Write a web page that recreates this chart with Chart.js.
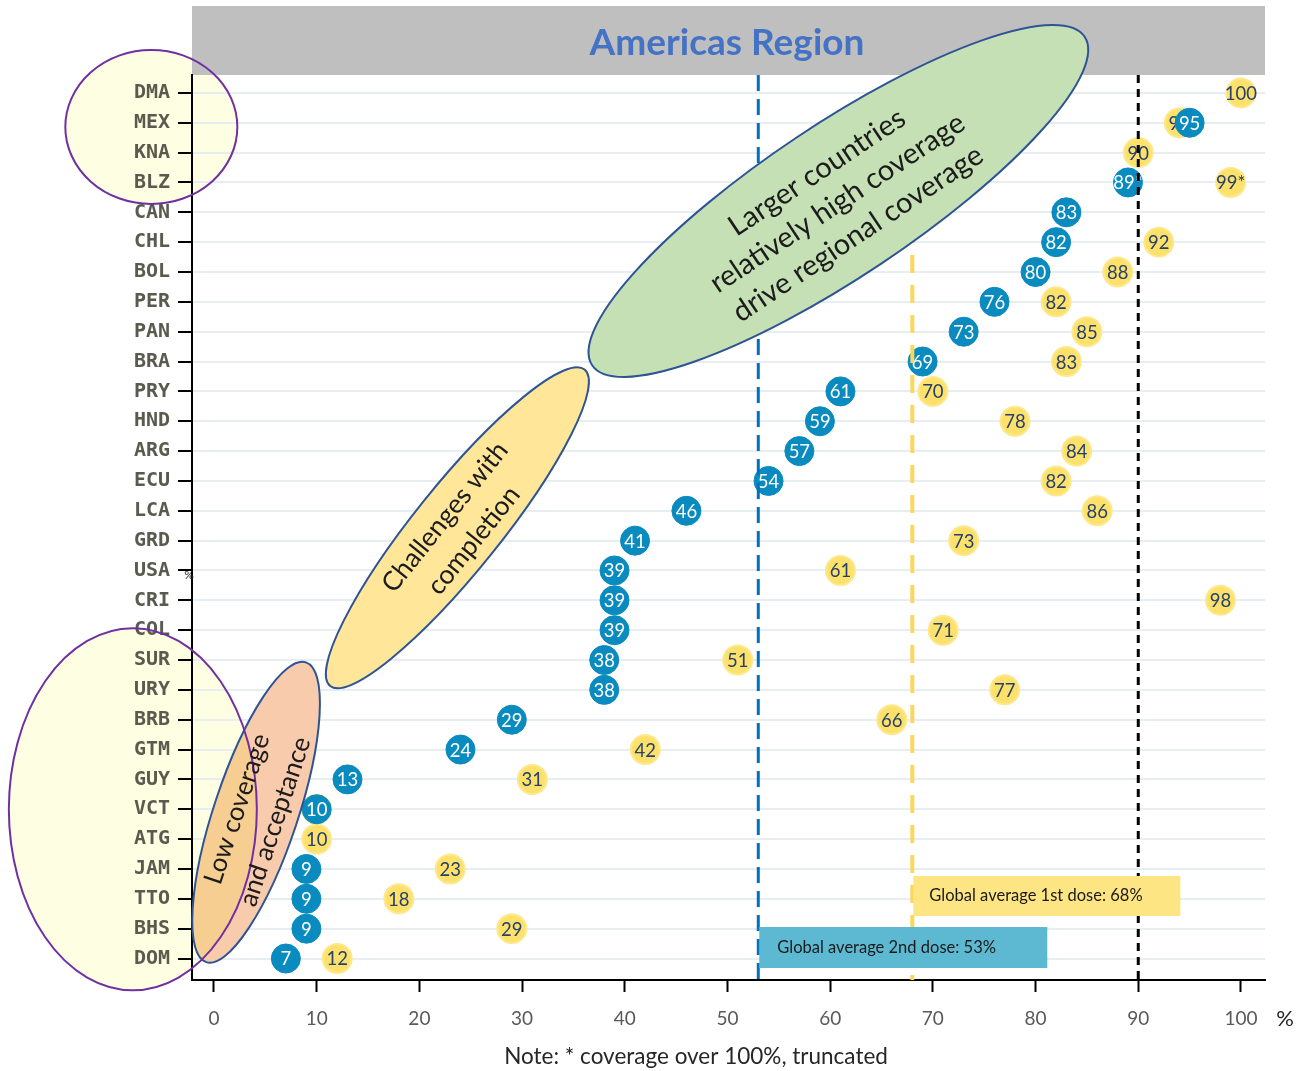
<!DOCTYPE html>
<html>
<head>
<meta charset="utf-8">
<title>Americas Region</title>
<script src="https://cdn.jsdelivr.net/npm/chart.js@4.4.1/dist/chart.umd.min.js"></script>
<style>
  html, body { margin: 0; padding: 0; background: #ffffff; }
  #wrap { width: 1297px; height: 1071px; position: relative; }
</style>
</head>
<body>
<div id="wrap"><canvas id="coverageChart" width="1297" height="1071"></canvas></div>
<script>
// =========================
// data
// =========================
const countries = [
  "DMA", "MEX", "KNA", "BLZ", "CAN", "CHL", "BOL", "PER", "PAN", "BRA",
  "PRY", "HND", "ARG", "ECU", "LCA", "GRD", "USA", "CRI", "COL", "SUR",
  "URY", "BRB", "GTM", "GUY", "VCT", "ATG", "JAM", "TTO", "BHS", "DOM",
];

// completed series (2nd dose), %
const secondDose = [
  null, 95, null, 89, 83, 82, 80, 76, 73, 69,
  61, 59, 57, 54, 46, 41, 39, 39, 39, 38,
  38, 29, 24, 13, 10, null, 9, 9, 9, 7,
];

// at least one dose, %
const firstDose = [
  100, 94, 90, 99, null, 92, 88, 82, 85, 83,
  70, 78, 84, 82, 86, 73, 61, 98, 71, 51,
  77, 66, 42, 31, 10, 10, 23, 18, 29, 12,
];

// coverage over 100% is cut to 99 and flagged
const truncatedCountries = ["BLZ"];

const globalAvgFirst = 68;
const globalAvgSecond = 53;
const targetCoverage = 90;

const xTickStep = 10;

// =========================
// helpers
// =========================
function toPoints(values) {
  return values
    .map((v, i) => (v === null ? null : { x: v, y: i }))
    .filter(Boolean);
}

function toLabels(values) {
  return values
    .map((v, i) =>
      v === null ? null : `${v}${truncatedCountries.includes(countries[i]) ? "*" : ""}`,
    )
    .filter((v) => v !== null);
}

function ellipsePath(ctx, cx, cy, rx, ry, deg) {
  ctx.beginPath();
  ctx.ellipse(cx, cy, rx, ry, (deg * Math.PI) / 180, 0, Math.PI * 2);
}

function rotatedText(ctx, lines, cx, cy, deg, font, gap) {
  ctx.save();
  ctx.translate(cx, cy);
  ctx.rotate((deg * Math.PI) / 180);
  ctx.font = font;
  ctx.fillStyle = "#1c1c1c";
  ctx.textAlign = "center";
  ctx.textBaseline = "middle";
  lines.forEach((line, i) => {
    ctx.fillText(line, 0, (i - (lines.length - 1) / 2) * gap);
  });
  ctx.restore();
}

// callout shapes, centred on value / row position
const callouts = {
  pale: [
    { x: -6.1, row: 1.14, rx: 86, ry: 77 },
    { x: -7.9, row: 24.0, rx: 124, ry: 181 },
  ],
  low: { x: 4.1, row: 24.1, rx: 158, ry: 42, deg: -71.6 },
  challenge: { x: 23.7, row: 14.57, rx: 203, ry: 43, deg: -51.2 },
  larger: { x: 60.8, row: 3.62, rx: 296, ry: 76, deg: -33.7 },
};

// =========================
// plugins
// =========================
const backdropPlugin = {
  id: "backdrop",
  beforeDraw(chart) {
    const { ctx, chartArea, scales } = chart;
    ctx.save();
    ctx.fillStyle = "#ffffff";
    ctx.fillRect(0, 0, chart.width, chart.height);

    // pale circles behind the smallest countries
    ctx.fillStyle = "#fefee2";
    callouts.pale.forEach((c) => {
      ellipsePath(ctx, scales.x.getPixelForValue(c.x), scales.y.getPixelForValue(c.row), c.rx, c.ry, 0);
      ctx.fill();
    });

    // title bar
    ctx.fillStyle = "#bfbfbf";
    ctx.fillRect(chartArea.left, 6, chartArea.right - chartArea.left, chartArea.top - 6);
    ctx.fillStyle = "#4472c4";
    ctx.font = "bold 37px Lato";
    ctx.textAlign = "center";
    ctx.textBaseline = "middle";
    ctx.fillText("Americas Region", 727, 43);
    ctx.restore();
  },
};

const valueLabelPlugin = {
  id: "valueLabels",
  afterDatasetDraw(chart, args) {
    const { ctx } = chart;
    const ds = chart.data.datasets[args.index];
    ctx.save();
    ctx.font = "18.5px Lato";
    ctx.fillStyle = ds.labelColor;
    ctx.textAlign = "center";
    ctx.textBaseline = "middle";
    args.meta.data.forEach((pt, i) => {
      ctx.fillText(ds.valueLabels[i], pt.x, pt.y + 1);
    });
    ctx.restore();
  },
};

const referencePlugin = {
  id: "referenceLines",
  afterDatasetsDraw(chart) {
    const { ctx, chartArea, scales } = chart;
    const vline = (value, color, width, dash) => {
      const px = scales.x.getPixelForValue(value);
      ctx.save();
      ctx.strokeStyle = color;
      ctx.lineWidth = width;
      ctx.setLineDash(dash);
      ctx.beginPath();
      ctx.moveTo(px, chartArea.top);
      ctx.lineTo(px, chartArea.bottom);
      ctx.stroke();
      ctx.restore();
      return px;
    };

    const x2 = vline(globalAvgSecond, "#0070c0", 3, [16, 8]);
    const x1 = vline(globalAvgFirst, "#fdd65c", 4, [18, 12]);
    vline(targetCoverage, "#000000", 3, [8, 6]);

    ctx.save();
    ctx.font = "16.5px Lato";
    ctx.textBaseline = "middle";
    ctx.textAlign = "left";

    ctx.fillStyle = "#fee584";
    ctx.fillRect(x1 + 1, 876, 267, 40);
    ctx.fillStyle = "#1a1a1a";
    ctx.fillText(`Global average 1st dose: ${globalAvgFirst}%`, x1 + 17, 896);

    ctx.fillStyle = "#5db8d1";
    ctx.fillRect(x2 + 1, 927, 288, 41);
    ctx.fillStyle = "#1a1a1a";
    ctx.fillText(`Global average 2nd dose: ${globalAvgSecond}%`, x2 + 19, 948);
    ctx.restore();
  },
};

const calloutPlugin = {
  id: "callouts",
  afterDraw(chart) {
    const { ctx, scales } = chart;
    const px = (c) => [scales.x.getPixelForValue(c.x), scales.y.getPixelForValue(c.row)];

    ctx.save();
    // green ellipse
    const g = callouts.larger;
    const [gx, gy] = px(g);
    ellipsePath(ctx, gx, gy, g.rx, g.ry, g.deg);
    ctx.fillStyle = "#c5e0b4";
    ctx.fill();
    ctx.strokeStyle = "#2f5496";
    ctx.lineWidth = 2;
    ctx.stroke();

    // yellow ellipse
    const c = callouts.challenge;
    const [cx, cy] = px(c);
    ellipsePath(ctx, cx, cy, c.rx, c.ry, c.deg);
    ctx.fillStyle = "#ffe699";
    ctx.fill();
    ctx.stroke();

    // peach ellipse, darker where it overlaps the pale circle
    const l = callouts.low;
    const [lx, ly] = px(l);
    ellipsePath(ctx, lx, ly, l.rx, l.ry, l.deg);
    ctx.fillStyle = "#f8cbad";
    ctx.fill();
    ctx.save();
    const pb = callouts.pale[1];
    const [pbx, pby] = px(pb);
    ellipsePath(ctx, pbx, pby, pb.rx, pb.ry, 0);
    ctx.clip();
    ellipsePath(ctx, lx, ly, l.rx, l.ry, l.deg);
    ctx.fillStyle = "#f6ce91";
    ctx.fill();
    ctx.restore();
    ellipsePath(ctx, lx, ly, l.rx, l.ry, l.deg);
    ctx.strokeStyle = "#2f5496";
    ctx.stroke();

    // purple outlines
    ctx.strokeStyle = "#7030a0";
    ctx.lineWidth = 2;
    callouts.pale.forEach((p) => {
      const [x, y] = px(p);
      ellipsePath(ctx, x, y, p.rx, p.ry, 0);
      ctx.stroke();
    });
    ctx.restore();

    rotatedText(ctx, ["Larger countries", "relatively high coverage", "drive regional coverage"],
      gx - 1, gy + 2, g.deg, "29px Lato", 37);
    rotatedText(ctx, ["Challenges with", "completion"], cx + 2, cy + 1, c.deg, "26.5px Lato", 37);
    rotatedText(ctx, ["Low coverage", "and acceptance"], lx, ly + 3, l.deg, "26px Lato", 40);

    // loose labels
    ctx.save();
    ctx.fillStyle = "#262626";
    ctx.textBaseline = "middle";
    ctx.textAlign = "center";
    ctx.font = "12px Lato";
    ctx.fillText("%", 189, 575);
    ctx.font = "22px Lato";
    ctx.fillText("%", 1285, 1019);
    ctx.font = "22.5px Lato";
    ctx.fillText("Note: * coverage over 100%, truncated", 696, 1057);
    ctx.restore();
  },
};

// =========================
// chart
// =========================
const ctx = document.querySelector("#coverageChart").getContext("2d");

new Chart(ctx, {
  type: "scatter",
  data: {
    datasets: [
      {
        label: "2nd dose",
        data: toPoints(secondDose),
        valueLabels: toLabels(secondDose),
        labelColor: "#ffffff",
        backgroundColor: "#0a8bbf",
        borderColor: "#0a8bbf",
        borderWidth: 1,
        pointRadius: 14.5,
      },
      {
        label: "1st dose",
        data: toPoints(firstDose),
        valueLabels: toLabels(firstDose),
        labelColor: "#26416e",
        backgroundColor: "#fde16a",
        borderColor: "#fce98f",
        borderWidth: 2,
        pointRadius: 14.5,
      },
    ],
  },
  options: {
    responsive: false,
    animation: false,
    events: [],
    layout: { padding: { top: 75, right: 32, bottom: 0, left: 0 } },
    plugins: {
      legend: { display: false },
      tooltip: { enabled: false },
    },
    scales: {
      x: {
        type: "linear",
        min: -2.14,
        max: 102.34,
        afterFit: (scale) => { scale.height = 91; },
        border: { color: "#000000", width: 2 },
        grid: {
          drawOnChartArea: false,
          tickLength: 12,
          tickColor: "#000000",
          tickWidth: 2,
        },
        ticks: {
          stepSize: xTickStep,
          includeBounds: false,
          color: "#595959",
          padding: 15,
          font: { family: "Lato", size: 19 },
        },
      },
      y: {
        type: "linear",
        reverse: true,
        min: -0.6,
        max: 29.72,
        afterFit: (scale) => { scale.width = 192; },
        border: { color: "#000000", width: 2 },
        grid: {
          color: "#e6eef1",
          lineWidth: 2,
          tickLength: 14,
          tickColor: "#000000",
          tickWidth: 2,
        },
        ticks: {
          stepSize: 1,
          includeBounds: false,
          autoSkip: false,
          padding: 8,
          color: "#5a5a4e",
          font: { family: "DejaVu Sans Mono", size: 20, weight: "bold" },
          callback: (value) => countries[value] ?? "",
        },
      },
    },
  },
  plugins: [backdropPlugin, valueLabelPlugin, referencePlugin, calloutPlugin],
});
</script>
</body>
</html>
